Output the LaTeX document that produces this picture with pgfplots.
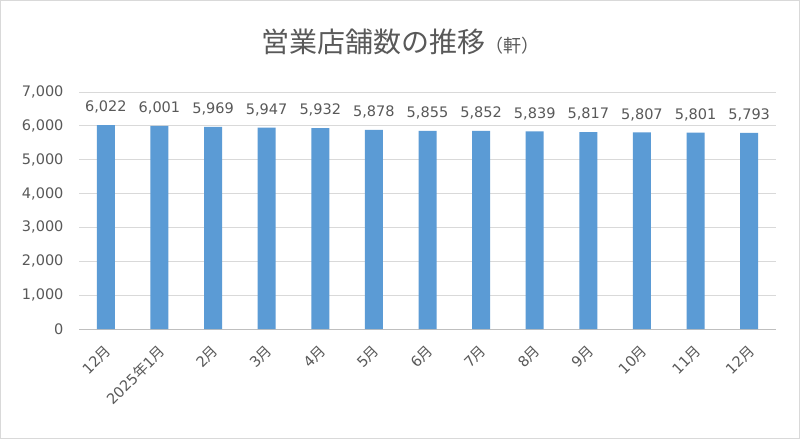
\documentclass[border=0pt]{standalone}
\usepackage{fontspec}
\setmainfont{DejaVu Sans}
\newfontfamily\cjk{Noto Sans CJK JP}
\newcommand\jp[1]{{\cjk #1}}
\usepackage{pgfplots}
\pgfplotsset{compat=1.18}
\definecolor{barblue}{HTML}{5B9BD5}
\definecolor{txtgray}{HTML}{595959}
\definecolor{gridgray}{HTML}{D9D9D9}
\definecolor{axisgray}{HTML}{BFBFBF}
\begin{document}
\begin{tikzpicture}[x=1pt,y=1pt]
\draw[draw=gridgray, line width=1pt, fill=white] (0.5,0.5) rectangle (799.5,438.5);
\node[text=txtgray, font=\cjk\fontsize{28}{32}\selectfont] at (400,397)
  {営業店舗数の推移\fontsize{18}{20}\selectfont（軒）};
\begin{axis}[
  at={(79pt,110pt)}, anchor=south west,
  scale only axis,
  width=697pt, height=237pt,
  ymin=0, ymax=7000,
  ytick={0,1000,...,7000},
  xmin=-0.5, xmax=12.5,
  xtick=data,
  xticklabels={12\jp{月},2025\jp{年}1\jp{月},2\jp{月},3\jp{月},4\jp{月},5\jp{月},6\jp{月},7\jp{月},8\jp{月},9\jp{月},10\jp{月},11\jp{月},12\jp{月}},
  x tick label style={xshift=-2pt, yshift=-10pt, rotate=45, anchor=north east, font=\fontsize{14.5}{16}\selectfont, text=txtgray},
  y tick label style={font=\fontsize{14.5}{16}\selectfont, text=txtgray, xshift=-12pt},
  /pgf/number format/assume math mode=true,
  /pgf/number format/1000 sep={,},
  scaled y ticks=false,
  ymajorgrids,
  grid style={gridgray, line width=1pt},
  major tick length=0pt,
  axis x line*=bottom,
  axis y line*=left,
  x axis line style={axisgray, line width=1pt, -},
  y axis line style={draw=none},
  ybar, bar width=18pt,
  nodes near coords,
  every node near coord/.append style={font=\fontsize{14.5}{18}\selectfont, text=txtgray, yshift=8pt},
  clip=false,
]
\addplot[fill=barblue, draw=none] coordinates {
(0,6022) (1,6001) (2,5969) (3,5947) (4,5932) (5,5878) (6,5855)
(7,5852) (8,5839) (9,5817) (10,5807) (11,5801) (12,5793)};
\end{axis}
\end{tikzpicture}
\end{document}
